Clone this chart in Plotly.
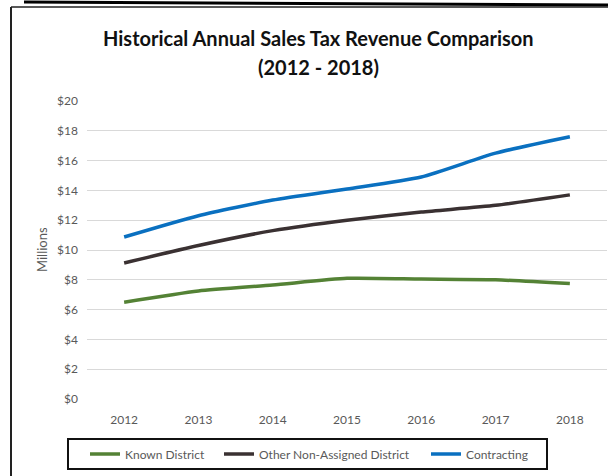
import plotly.graph_objects as go

years = ["2012", "2013", "2014", "2015", "2016", "2017", "2018"]
known_district = [6.5, 7.25, 7.65, 8.1, 8.05, 8.0, 7.75]
other_non_assigned = [9.13, 10.3, 11.3, 12.0, 12.55, 13.0, 13.7]
contracting = [10.87, 12.3, 13.35, 14.1, 14.9, 16.5, 17.6]
y_ticks = [0, 2, 4, 6, 8, 10, 12, 14, 16, 18, 20]
y_tick_labels = ["$" + str(v) for v in y_ticks]

W, H = 608, 476
FONT = "Lato"

series = [
    ("Known District", known_district, "#548235", "legend", 85),
    ("Other Non-Assigned District", other_non_assigned, "#3a3132", "legend2", 219),
    ("Contracting", contracting, "#0a70c0", "legend3", 426),
]

def px(x):
    return x / W

def py(y):
    return (H - y) / H

fig = go.Figure()
legend_layouts = {}
for name, vals, col, leg, lx in series:
    fig.add_trace(go.Scatter(
        x=years, y=vals, name=name, mode="lines", legend=leg,
        line=dict(color=col, width=3.5, shape="spline", smoothing=0.6),
    ))
    legend_layouts[leg] = dict(
        orientation="h", x=px(lx), y=py(454), xanchor="left", yanchor="middle",
        borderwidth=0, bgcolor="rgba(0,0,0,0)",
        font=dict(size=12, color="#595959", family=FONT),
        itemwidth=30,
    )

fig.update_layout(
    width=W, height=H,
    margin=dict(l=0, r=0, t=0, b=0, autoexpand=False),
    paper_bgcolor="white", plot_bgcolor="white",
    font=dict(family=FONT, color="#595959", size=12),
    showlegend=True,
    xaxis=dict(
        domain=[px(87), px(607)], automargin=False,
        type="category", range=[-0.5, 6.5],
        showgrid=False, showline=False, zeroline=False,
        ticks="", ticklabelstandoff=12,
        tickfont=dict(size=12, color="#595959"),
    ),
    yaxis=dict(
        domain=[py(399), py(101)], automargin=False,
        range=[0, 20], tickvals=y_ticks, ticktext=y_tick_labels,
        showgrid=True, gridcolor="#d9d9d9", gridwidth=1,
        zeroline=False, showline=False, ticks="",
        ticklabelstandoff=8,
        tickfont=dict(size=12, color="#595959"),
    ),
    annotations=[
        dict(text="<b>Historical Annual Sales Tax Revenue Comparison</b>",
             x=px(318), y=py(38), xref="paper", yref="paper", yanchor="middle",
             showarrow=False, font=dict(size=20, color="#111111", family=FONT)),
        dict(text="<b>(2012 - 2018)</b>",
             x=px(318), y=py(67), xref="paper", yref="paper", yanchor="middle",
             showarrow=False, font=dict(size=20, color="#111111", family=FONT)),
        dict(text="Millions", textangle=-90,
             x=px(42), y=py(250), xref="paper", yref="paper",
             xanchor="center", yanchor="middle",
             showarrow=False, font=dict(size=13, color="#595959", family=FONT)),
    ],
    shapes=[
        dict(type="line", xref="paper", yref="paper",
             x0=px(24), y0=py(2), x1=px(608), y1=py(5),
             line=dict(color="black", width=3)),
        dict(type="line", xref="paper", yref="paper",
             x0=px(11), y0=py(7), x1=px(608), y1=py(7),
             line=dict(color="#222222", width=1.5)),
        dict(type="line", xref="paper", yref="paper",
             x0=px(11), y0=py(7), x1=px(11), y1=py(476),
             line=dict(color="#222222", width=2)),
        dict(type="rect", xref="paper", yref="paper",
             x0=px(68), y0=py(439), x1=px(547), y1=py(469),
             line=dict(color="#111111", width=2)),
    ],
)
fig.update_layout(**legend_layouts)

fig.write_html("out.html")
